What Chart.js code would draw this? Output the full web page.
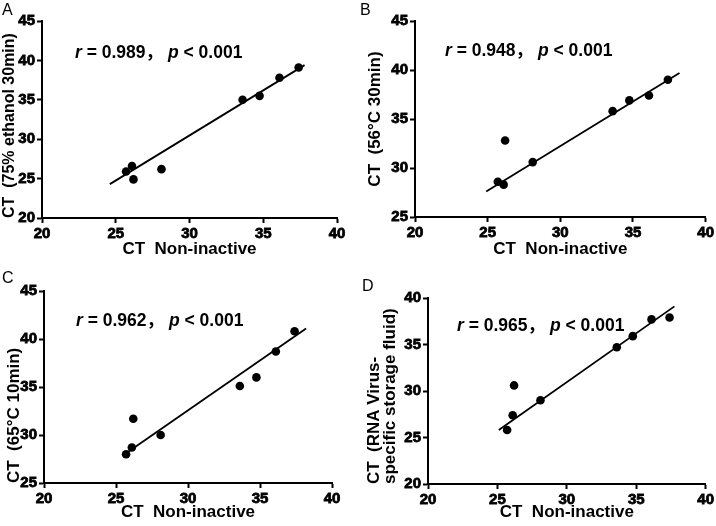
<!DOCTYPE html>
<html>
<head>
<meta charset="utf-8">
<script src="https://cdn.jsdelivr.net/npm/chart.js@4.4.0/dist/chart.umd.min.js"></script>
<style>
body{margin:0;background:#fff;width:716px;height:526px;position:relative;overflow:hidden;font-family:"Liberation Sans",Arial,sans-serif;color:#000}
.panel{position:absolute;width:358px;height:263px}
.letter{position:absolute;font-size:16px;line-height:16px}
.stat{position:absolute;font-family:"Liberation Sans","Noto Sans CJK SC",sans-serif;font-size:17.5px;font-weight:bold;line-height:20px;white-space:pre}
.stat i{font-style:italic}
</style>
</head>
<body>
<div class="panel" style="left:0;top:0"><canvas id="cA" width="358" height="263"></canvas></div>
<div class="panel" style="left:358px;top:0"><canvas id="cB" width="358" height="263"></canvas></div>
<div class="panel" style="left:0;top:263px"><canvas id="cC" width="358" height="263"></canvas></div>
<div class="panel" style="left:358px;top:263px"><canvas id="cD" width="358" height="263"></canvas></div>

<div class="letter" style="left:2px;top:2px">A</div>
<div class="letter" style="left:360px;top:2px">B</div>
<div class="letter" style="left:2px;top:270px">C</div>
<div class="letter" style="left:362px;top:278px">D</div>

<div class="stat" style="left:75px;top:42px"><i>r</i> = 0.989， <i>p</i> &lt; 0.001</div>
<div class="stat" style="left:445px;top:40px"><i>r</i> = 0.948， <i>p</i> &lt; 0.001</div>
<div class="stat" style="left:76px;top:310px"><i>r</i> = 0.962， <i>p</i> &lt; 0.001</div>
<div class="stat" style="left:457px;top:315px"><i>r</i> = 0.965， <i>p</i> &lt; 0.001</div>

<script>
// CT of the same samples without inactivation (shared by all panels)
const ctNonInactive = [25.7, 26.1, 26.2, 28.1, 33.6, 34.75, 36.1, 37.4];

// CT after each treatment
const ctEthanol = [25.9, 26.6, 24.9, 26.2, 35.0, 35.5, 37.8, 39.1];
const ct56 = [28.6, 28.3, 32.8, 30.6, 35.8, 36.9, 37.4, 39.0];
const ct65 = [28.0, 28.7, 31.7, 30.0, 35.1, 36.0, 38.7, 40.8];
const ctStorage = [25.8, 27.4, 30.6, 29.0, 34.7, 35.9, 37.7, 37.9];

// regression line end points
const fitA_x = [24.6, 37.8], fitA_y = [24.3, 39.4];
const fitB_x = [24.9, 38.2], fitB_y = [27.6, 39.7];
const fitC_x = [25.8, 38.2], fitC_y = [28.2, 41.1];
const fitD_x = [25.1, 37.75], fitD_y = [25.8, 39.1];

const xTicks = [20, 25, 30, 35, 40];

const FONT = '"Liberation Sans", Arial, sans-serif';
Chart.defaults.font.family = FONT;
Chart.defaults.font.weight = 'bold';
Chart.defaults.font.size = 15;
Chart.defaults.color = '#000';

function pairs(xs, ys){
  return xs.map((x,i)=>({x:x, y:ys[i]}));
}

const tickOpts = {color:'#000', font:{size:15, weight:'bold'}, padding:2, textStrokeColor:'#000', textStrokeWidth:0.8};

function makePanel(id, ys, fx, fy, yMin, yMax, yTitle, lay){
  new Chart(document.getElementById(id), {
    type:'scatter',
    data:{datasets:[
      {data:pairs(ctNonInactive, ys), backgroundColor:'#000', borderColor:'#000', pointRadius:4.3, pointBorderWidth:0},
      {type:'line', data:pairs(fx, fy), borderColor:'#000', borderWidth:1.8, pointRadius:0, fill:false, showLine:true}
    ]},
    options:{
      responsive:false, animation:false,
      layout:{padding:{top:lay.top, right:lay.right, left:0, bottom:0}},
      plugins:{legend:{display:false}, tooltip:{enabled:false}},
      scales:{
        x:{
          type:'linear', min:xTicks[0], max:xTicks[xTicks.length-1],
          afterBuildTicks:s=>{s.ticks = xTicks.map(v=>({value:v}));},
          ticks:tickOpts,
          grid:{drawOnChartArea:false, tickLength:5, tickColor:'#000', tickWidth:2},
          border:{color:'#000', width:2},
          title:{display:true, text:'CT  Non-inactive', color:'#000', font:{size:17, weight:'bold'}, padding:{top:0, bottom:3}},
          afterFit:s=>{s.height = lay.xh;}
        },
        y:{
          type:'linear', min:yMin, max:yMax,
          ticks:Object.assign({stepSize:5}, tickOpts),
          grid:{drawOnChartArea:false, tickLength:5, tickColor:'#000', tickWidth:2},
          border:{color:'#000', width:2},
          title:{display:true, text:yTitle, align:lay.talign, color:'#000',
            font:{size:lay.tsize, weight:'bold', lineHeight:0.95}, padding:{top:lay.tpad, bottom:0}},
          afterFit:s=>{s.width = lay.yw;}
        }
      }
    }
  });
}

makePanel('cA', ctEthanol, fitA_x, fitA_y, 20, 45, 'CT  (75% ethanol 30min)', {top:21, right:21, xh:45, yw:42, tsize:16, tpad:2, talign:'start'});
makePanel('cB', ct56, fitB_x, fitB_y, 25, 45, 'CT  (56°C 30min)', {top:21, right:9, xh:46, yw:57, tsize:17, tpad:9, talign:'center'});
makePanel('cC', ct65, fitC_x, fitC_y, 25, 45, 'CT  (65°C 10min)', {top:28, right:26, xh:43, yw:44, tsize:17, tpad:6, talign:'start'});
makePanel('cD', ctStorage, fitD_x, fitD_y, 20, 40, ['CT  (RNA Virus-', 'specific storage fluid)'], {top:35, right:9, xh:42, yw:70, tsize:17, tpad:8, talign:'start'});
</script>
</body>
</html>
